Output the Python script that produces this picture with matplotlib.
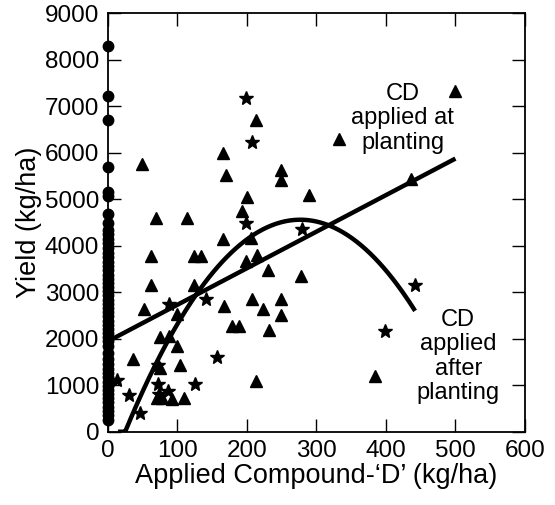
import numpy as np
import matplotlib
matplotlib.use("Agg")
from matplotlib import pyplot as plt

plt.rcParams["font.family"] = ["Liberation Sans", "DejaVu Sans"]

# untreated plots (no compound applied)
control_yield = [8300, 7230, 6700, 5700, 5160, 5070, 4680, 4500, 4330, 4250,
                 4150, 4050, 3950, 3850, 3750, 3650, 3560, 3470, 3380, 3290,
                 3200, 3110, 3020, 2930, 2840, 2750, 2660, 2570, 2480, 2390,
                 2300, 2210, 2120, 2040, 1960, 1850, 1700, 1560, 1450, 1350,
                 1260, 1170, 1080, 990, 900, 810, 720, 630, 540, 450, 360, 250]

# compound applied at planting
at_rate = [50, 70, 114, 166, 171, 200, 193, 213, 166, 206,
           62, 124, 135, 199, 215, 230, 62, 125, 52, 167,
           207, 223, 100, 179, 189, 232, 76, 88, 100, 37,
           75, 104, 214, 71, 78, 92, 110, 500, 332, 250,
           250, 290, 436, 278, 250, 250, 385]
at_yield = [5750, 4590, 4600, 6000, 5530, 5050, 4740, 6700, 4140, 4170,
            3770, 3780, 3780, 3680, 3805, 3480, 3150, 3155, 2640, 2710,
            2856, 2635, 2535, 2270, 2270, 2185, 2034, 2060, 1835, 1560,
            1370, 1430, 1100, 720, 720, 695, 715, 7330, 6300, 5640,
            5405, 5083, 5440, 3355, 2856, 2520, 1193]

# compound applied after planting
after_rate = [199, 207, 199, 89, 142, 158, 73, 13, 31, 73,
              87, 74, 126, 47, 279, 442, 399]
after_yield = [7175, 6230, 4500, 2740, 2850, 1606, 1430, 1107, 786, 1036,
               878, 822, 1036, 400, 4370, 3156, 2163]

# fitted responses
lin_intercept, lin_slope = 1940, 7.87
lin_range = (0, 500)
quad_peak_x, quad_peak_y, quad_k = 277, 4560, 0.072
quad_range = (15, 442)

fig = plt.figure(figsize=(5.55, 5.05), dpi=100)
ax = fig.add_axes([0.1937, 0.1451, 0.7523, 0.8286])

ax.plot(np.zeros(len(control_yield)), control_yield, "o", color="black",
        ms=7.5, clip_on=False, zorder=4)
ax.plot(at_rate, at_yield, "^", color="black", ms=8, zorder=4)
ax.plot(after_rate, after_yield, "*", color="black", ms=10.5, zorder=4)

xl = np.linspace(*lin_range, 50)
ax.plot(xl, lin_intercept + lin_slope * xl, color="black", lw=3.2,
        solid_capstyle="butt", zorder=3)

xq = np.linspace(*quad_range, 200)
yq = np.clip(quad_peak_y - quad_k * (xq - quad_peak_x) ** 2, 0, None)
ax.plot(xq, yq, color="black", lw=3.2, solid_capstyle="butt", zorder=3)

ax.text(424, 6740, "CD\napplied at\nplanting", ha="center", va="center",
        fontsize=17, linespacing=1.15)
ax.text(504, 1620, "CD\napplied\nafter\nplanting", ha="center", va="center",
        fontsize=17, linespacing=1.15)

ax.set_xlim(0, 600)
ax.set_ylim(0, 9000)
ax.set_xticks(range(0, 601, 100))
ax.set_yticks(range(0, 9001, 1000))
ax.tick_params(direction="in", length=9.5, width=1, top=True, right=True,
               labelsize=17.5, pad=6)
for s in ax.spines.values():
    s.set_linewidth(1.3)

ax.set_xlabel("Applied Compound-\u2018D\u2019 (kg/ha)", fontsize=19.5, labelpad=1)
ax.set_ylabel("Yield (kg/ha)", fontsize=19.5, labelpad=2)

fig.savefig("out.png", dpi=100)
